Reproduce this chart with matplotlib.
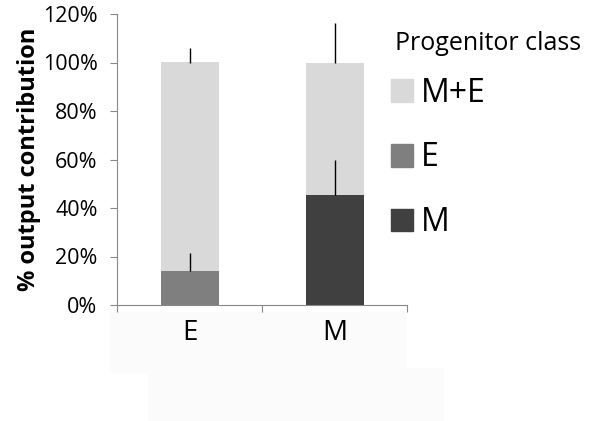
import matplotlib
matplotlib.use("Agg")
import matplotlib.pyplot as plt
from matplotlib.patches import Rectangle, Patch

# data
groups = ["E", "M"]
share_m = [0.0, 45.4]
share_e = [14.0, 0.0]
share_me = [86.0, 54.6]
err_low_segment = [7.4, 14.4]
err_total = [6.0, 16.4]

col_me = "#d9d9d9"
col_e = "#7f7f7f"
col_m = "#404040"

plt.rcParams["font.family"] = ["Open Sans", "DejaVu Sans"]

fig = plt.figure(figsize=(6.09, 4.21), dpi=100)
ax = fig.add_axes([117 / 609, 1 - 305 / 421, 290 / 609, 291 / 421])

# faint background boxes under the category labels
fig.add_artist(Rectangle((110 / 609, 1 - 372 / 421), 295 / 609, 60 / 421,
                         transform=fig.transFigure, color="#fcfbfb", zorder=0))
fig.add_artist(Rectangle((148 / 609, 0), 295 / 609, 53 / 421,
                         transform=fig.transFigure, color="#fcfbfb", zorder=0))

x = list(range(len(groups)))
w = 0.4
bottom_e = share_m
bottom_me = [a + b for a, b in zip(share_m, share_e)]
totals = [a + b for a, b in zip(bottom_me, share_me)]

ax.bar(x, share_m, w, color=col_m, zorder=2)
ax.bar(x, share_e, w, bottom=bottom_e, color=col_e, zorder=2)
ax.bar(x, share_me, w, bottom=bottom_me, color=col_me, zorder=2)

# one-sided error bars
ax.errorbar(x, bottom_me, yerr=[[0] * len(x), err_low_segment], fmt="none",
            ecolor="black", elinewidth=1, capsize=0, zorder=3)
ax.errorbar(x, totals, yerr=[[0] * len(x), err_total], fmt="none",
            ecolor="black", elinewidth=1, capsize=0, zorder=3)

ax.set_xlim(-0.5, 1.5)
ax.set_ylim(0, 120)
ax.set_yticks(range(0, 121, 20))
ax.set_yticklabels([f"{v}%" for v in range(0, 121, 20)], fontsize=15.5)
ax.set_xticks([-0.5, 0.5, 1.5], minor=False)
ax.set_xticklabels([])
ax.set_xticks(x, minor=True)
ax.set_xticklabels(groups, minor=True, fontsize=20)
ax.tick_params(axis="x", which="minor", length=0, pad=10)
ax.tick_params(axis="x", which="major", length=5, color="#888888")
ax.tick_params(axis="y", length=5, color="#888888", pad=9)
for s in ["top", "right"]:
    ax.spines[s].set_visible(False)
for s in ["left", "bottom"]:
    ax.spines[s].set_color("#888888")
ax.set_ylabel("% output contribution", fontsize=17, fontweight="bold", labelpad=1)
ax.patch.set_alpha(0)

fig.text(395 / 609, 1 - 43 / 421, "Progenitor class", fontsize=18, va="center")
handles = [Patch(color=col_me), Patch(color=col_e), Patch(color=col_m)]
leg = fig.legend(handles, ["M+E", "E", "M"], loc="center left",
                 bbox_to_anchor=(391 / 609, 1 - 158 / 421), frameon=False,
                 fontsize=23, borderpad=0, borderaxespad=0,
                 handlelength=0.7, handleheight=0.7, handletextpad=0.25,
                 labelspacing=1.0)

fig.savefig("out.png", dpi=100)
